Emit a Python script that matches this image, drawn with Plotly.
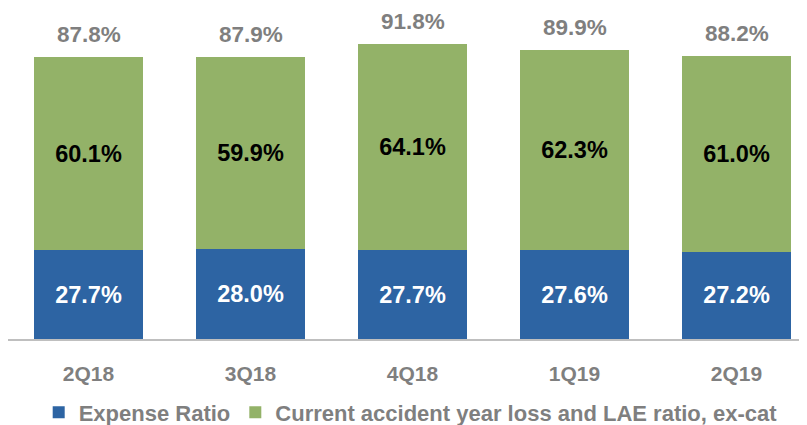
import plotly.graph_objects as go

quarters = ["2Q18", "3Q18", "4Q18", "1Q19", "2Q19"]
expense_ratio = [27.7, 28.0, 27.7, 27.6, 27.2]
loss_lae_ratio = [60.1, 59.9, 64.1, 62.3, 61.0]
combined = [87.8, 87.9, 91.8, 89.9, 88.2]

FONT = "Liberation Sans, Arial, sans-serif"
GRAY = "#7f7f7f"

fig = go.Figure()
fig.add_trace(go.Bar(
    x=quarters, y=expense_ratio, name="Expense Ratio",
    marker=dict(color="#2d64a3", line=dict(width=0)),
    text=[f"{v:.1f}%" for v in expense_ratio], textposition="inside",
    insidetextanchor="middle",
    textfont=dict(family=FONT, size=23.5, color="white", weight="bold"),
))
fig.add_trace(go.Bar(
    x=quarters, y=loss_lae_ratio, name="Current accident year loss and LAE ratio, ex-cat",
    marker=dict(color="#93b268", line=dict(width=0)),
    text=[f"{v:.1f}%" for v in loss_lae_ratio], textposition="inside",
    insidetextanchor="middle",
    textfont=dict(family=FONT, size=23.5, color="black", weight="bold"),
))
for q, t in zip(quarters, combined):
    fig.add_annotation(x=q, y=t, text=f"{t:.1f}%", showarrow=False,
                       yanchor="bottom", yshift=8,
                       font=dict(family=FONT, size=22.5, color=GRAY, weight="bold"))

fig.update_layout(
    width=799, height=417,
    barmode="stack", bargap=0.33,
    margin=dict(l=0, r=0, t=0, b=86, autoexpand=False),
    plot_bgcolor="white", paper_bgcolor="white",
    xaxis=dict(range=[-0.497, 4.435], showline=True, linecolor="#bfbfbf", linewidth=2,
               ticks="", showgrid=False, ticklabelstandoff=15,
               tickfont=dict(family=FONT, size=21, color=GRAY, weight="bold")),
    yaxis=dict(range=[0, 103.05], visible=False, showgrid=False),
    legend=dict(orientation="h", x=0.504, xanchor="center", y=-0.222, yanchor="middle",
                font=dict(family=FONT, size=22, color=GRAY, weight="bold"),
                itemwidth=30, traceorder="normal"),
    showlegend=True,
)
fig.write_html("out.html")
